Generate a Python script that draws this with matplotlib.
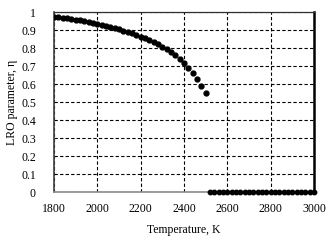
import matplotlib.pyplot as plt
import numpy as np

# Ordered phase: temperature (K) and LRO parameter
t_ordered = [1800, 1820, 1840, 1860, 1880, 1900, 1920, 1940, 1960, 1980,
             2000, 2020, 2040, 2060, 2080, 2100, 2120, 2140, 2160, 2180,
             2200, 2220, 2240, 2260, 2280, 2300, 2320, 2340, 2360, 2380,
             2400, 2420, 2440, 2460, 2480, 2500]
eta_ordered = [0.975, 0.972, 0.969, 0.966, 0.962, 0.958, 0.954, 0.950, 0.946, 0.941,
               0.936, 0.930, 0.925, 0.918, 0.911, 0.904, 0.897, 0.889, 0.881, 0.873,
               0.864, 0.855, 0.845, 0.834, 0.822, 0.808, 0.793, 0.777, 0.759, 0.738,
               0.715, 0.689, 0.659, 0.627, 0.592, 0.548]

# Disordered phase
t_disordered = [2520, 2540, 2560, 2580, 2600, 2620, 2640, 2660, 2680, 2700,
                2720, 2740, 2760, 2780, 2800, 2820, 2840, 2860, 2880, 2900,
                2920, 2940, 2960, 2980, 3000]
eta_disordered = [0] * len(t_disordered)

x_ticks = [1800, 2000, 2200, 2400, 2600, 2800, 3000]
y_ticks = [0, 0.1, 0.2, 0.3, 0.4, 0.5, 0.6, 0.7, 0.8, 0.9, 1]

plt.rcParams['font.family'] = ['Liberation Serif', 'DejaVu Serif']
plt.rcParams['font.size'] = 8.5

fig = plt.figure(figsize=(3.33, 2.41), dpi=100)
ax = fig.add_axes([0.162, 0.203, 0.781, 0.747])

ax.plot(t_ordered, eta_ordered, 'o', color='black', markersize=3.5, zorder=3)
ax.plot(t_disordered, eta_disordered, 'o', color='black', markersize=3.2,
        zorder=3, clip_on=False)

ax.set_xlim(1800, 3000)
ax.set_ylim(0, 1)
ax.set_xticks(x_ticks)
ax.set_yticks(y_ticks)
ax.set_yticklabels(['%g' % v for v in y_ticks])
ax.grid(True, color='black', linestyle=(0, (3, 2)), linewidth=0.8)
ax.set_axisbelow(True)
ax.tick_params(axis='both', length=0)
ax.tick_params(axis='y', pad=13)
ax.tick_params(axis='x', pad=8)

ax.spines['left'].set_color('#404040')
ax.spines['left'].set_linewidth(1.2)
ax.spines['bottom'].set_color('#8a8a8a')
ax.spines['bottom'].set_linewidth(1.2)
ax.spines['top'].set_color('#303030')
ax.spines['top'].set_linewidth(0.9)
ax.spines['right'].set_color('black')
ax.spines['right'].set_linewidth(1.8)

ax.set_xlabel('Temperature, K', labelpad=6)
ax.set_ylabel('LRO parameter, η', labelpad=2)

fig.savefig('out.png', dpi=100)
